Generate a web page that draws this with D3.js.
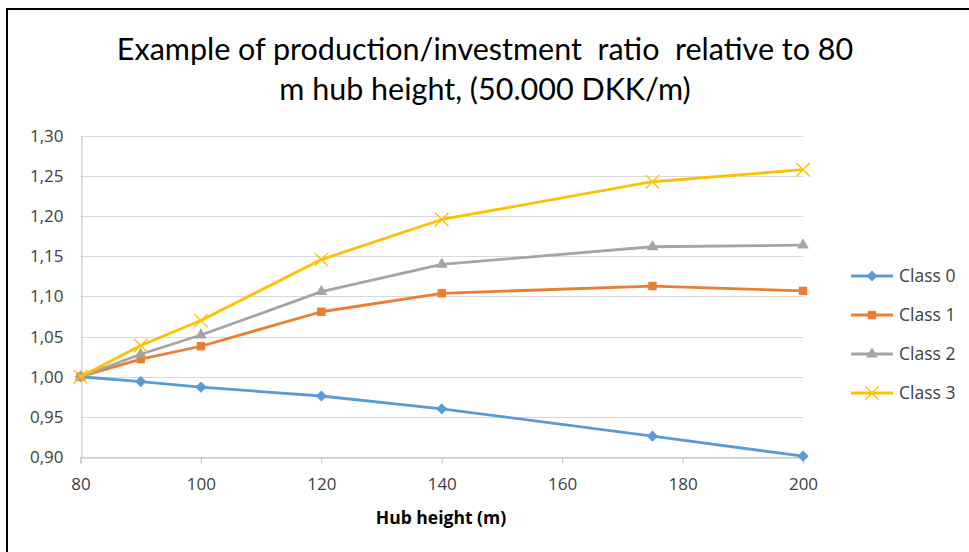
<!DOCTYPE html>
<html><head><meta charset="utf-8">
<script src="https://cdn.jsdelivr.net/npm/d3@7"></script>
<style>body{margin:0;background:#fff;}svg{display:block;}</style>
</head><body>
<svg id="c" width="969" height="552"></svg>
<script>
const heights = [80, 90, 100, 120, 140, 175, 200];
const class0 = [1.000, 0.994, 0.987, 0.976, 0.960, 0.926, 0.901];
const class1 = [1.000, 1.022, 1.038, 1.081, 1.104, 1.113, 1.107];
const class2 = [1.000, 1.028, 1.052, 1.106, 1.140, 1.162, 1.164];
const class3 = [1.000, 1.039, 1.070, 1.146, 1.196, 1.243, 1.258];
const seriesNames = ["Class 0", "Class 1", "Class 2", "Class 3"];
const xTicks = [80, 100, 120, 140, 160, 180, 200];
const yTicks = [0.90, 0.95, 1.00, 1.05, 1.10, 1.15, 1.20, 1.25, 1.30];
const titleLines = ["Example of production/investment  ratio  relative to 80", "m hub height, (50.000 DKK/m)"];
const xLabel = "Hub height (m)";

const colors = ["#5b9bd5", "#ed7d31", "#a5a5a5", "#ffc000"];
const shapes = [d3.symbolDiamond2, d3.symbolSquare2, d3.symbolTriangle2, d3.symbolX];
const seriesData = [class0, class1, class2, class3];

const svg = d3.select("#c");
const font = "'Open Sans', sans-serif";

// frame
svg.append("line").attr("x1", 7).attr("x2", 7).attr("y1", 8).attr("y2", 552).attr("stroke", "#000").attr("stroke-width", 2);
svg.append("line").attr("x1", 6).attr("x2", 969).attr("y1", 9).attr("y2", 9).attr("stroke", "#000").attr("stroke-width", 2);

const x = d3.scaleLinear().domain([80, 200]).range([80.5, 803]);
const y = d3.scaleLinear().domain([0.90, 1.30]).range([457, 136]);

// title
svg.append("g").selectAll("text").data(titleLines).join("text")
  .attr("x", 485).attr("y", (d, i) => 60 + i * 40)
  .attr("text-anchor", "middle").attr("font-family", "Lato, sans-serif")
  .attr("font-size", 30.5).attr("fill", "#000").style("white-space", "pre").text(d => d);

// grid
svg.append("g").selectAll("line").data(yTicks).join("line")
  .attr("x1", x(80)).attr("x2", x(200)).attr("y1", d => Math.round(y(d)) + 0.5).attr("y2", d => Math.round(y(d)) + 0.5)
  .attr("stroke", "#d9d9d9").attr("stroke-width", 1);

// x axis
const xAxis = svg.append("g").attr("transform", `translate(0,${Math.round(y(0.9)) + 0.5})`)
  .call(d3.axisBottom(x).tickValues(xTicks).tickSize(6).tickPadding(14).tickFormat(d3.format("d")));
xAxis.select(".domain").attr("stroke", "#bfbfbf");
xAxis.selectAll(".tick line").attr("stroke", "#bfbfbf");
xAxis.selectAll("text").attr("font-family", font).attr("font-size", 17).attr("fill", "#404040");

// y axis
const yAxis = svg.append("g").attr("transform", `translate(${Math.round(x(80)) + 0.5},0)`)
  .call(d3.axisLeft(y).tickValues(yTicks).tickSize(0).tickPadding(18).tickFormat(d => d3.format(".2f")(d).replace(".", ",")));
yAxis.select(".domain").attr("stroke", "#bfbfbf");
yAxis.selectAll("text").attr("font-family", font).attr("font-size", 17).attr("fill", "#404040");

svg.append("text").attr("x", 441).attr("y", 524).attr("text-anchor", "middle")
  .attr("font-family", font).attr("font-weight", "bold").attr("font-size", 17.5).attr("fill", "#000").text(xLabel);

// series
const line = d3.line().x((d, i) => x(heights[i])).y(d => y(d));
const symSizes = [80, 90, 100, 120];
seriesData.forEach((vals, s) => {
  const g = svg.append("g");
  g.append("path").datum(vals).attr("d", line).attr("fill", "none")
    .attr("stroke", colors[s]).attr("stroke-width", 2.8).attr("stroke-linejoin", "round");
  g.selectAll("path.m").data(vals).join("path").attr("class", "m")
    .attr("transform", (d, i) => `translate(${x(heights[i])},${y(d)})`)
    .attr("d", d3.symbol(shapes[s], symSizes[s]))
    .attr("fill", s === 3 ? "none" : colors[s])
    .attr("stroke", colors[s]).attr("stroke-width", s === 3 ? 1.3 : 0);
});

// legend
const legendY = [276, 315, 354, 393];
const lg = svg.append("g").selectAll("g").data(seriesNames).join("g")
  .attr("transform", (d, i) => `translate(851,${legendY[i]})`);
lg.append("line").attr("x1", 0).attr("x2", 42).attr("y1", 0).attr("y2", 0)
  .attr("stroke", (d, i) => colors[i]).attr("stroke-width", 2.8);
lg.append("path").attr("transform", "translate(21,0)")
  .attr("d", (d, i) => d3.symbol(shapes[i], symSizes[i])())
  .attr("fill", (d, i) => i === 3 ? "none" : colors[i])
  .attr("stroke", (d, i) => colors[i]).attr("stroke-width", (d, i) => i === 3 ? 1.3 : 0);
lg.append("text").attr("x", 48).attr("y", 0).attr("dy", "0.35em")
  .attr("font-family", font).attr("font-size", 17.5).attr("fill", "#404040").text(d => d);
</script>
</body></html>
